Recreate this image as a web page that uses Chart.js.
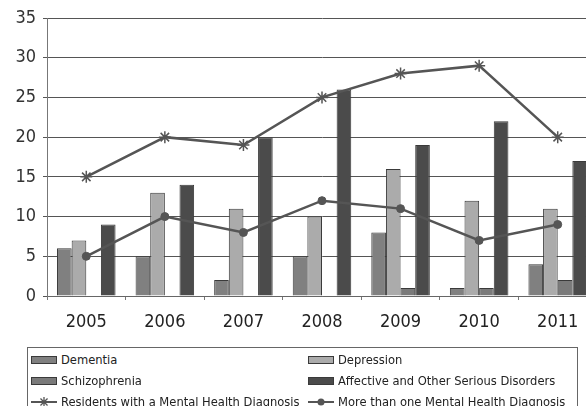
<!DOCTYPE html>
<html>
<head>
<meta charset="utf-8">
<script src="https://cdn.jsdelivr.net/npm/chart.js@4.4.1/dist/chart.umd.min.js"></script>
<style>
  html, body { margin: 0; padding: 0; background: #fff; }
  body { width: 586px; height: 406px; overflow: hidden; position: relative; }
  #wrap { position: absolute; left: 0; top: 0; width: 612px; height: 340px; }
  #legend {
    position: absolute; left: 27px; top: 347px; width: 551px; height: 70px;
    border: 1px solid #666; box-sizing: border-box;
    display: grid; grid-template-columns: 277px 1fr; grid-auto-rows: 21px;
    padding-top: 1px;
    font-family: "DejaVu Sans Condensed", "Liberation Sans", sans-serif; font-size: 12.8px; color: #222;
  }
  .item { display: flex; align-items: center; padding-left: 2px; white-space: nowrap; }
  .item canvas { margin-right: 3px; }
</style>
</head>
<body>
<div id="wrap"><canvas id="mhChart" width="612" height="340"></canvas></div>
<div id="legend"></div>
<script>
// Residents by mental health diagnosis, 2005-2011
const years = ["2005", "2006", "2007", "2008", "2009", "2010", "2011"];
const dementia = [6, 5, 2, 5, 8, 1, 4];
const depression = [7, 13, 11, 10, 16, 12, 11];
const schizophrenia = [0, 0, 0, 0, 1, 1, 2];
const affective = [9, 14, 20, 26, 19, 22, 17];
const residentsWithDiagnosis = [15, 20, 19, 25, 28, 29, 20];
const moreThanOneDiagnosis = [5, 10, 8, 12, 11, 7, 9];
const yTicks = [0, 5, 10, 15, 20, 25, 30, 35];

const lineColor = "#555555";
const font = "'DejaVu Sans Condensed', 'DejaVu Sans', sans-serif";

function barSet(label, data, color) {
  return {
    type: "bar", label, data, order: 1,
    backgroundColor: color, borderColor: "#3a3a3a", borderWidth: 1,
    categoryPercentage: 0.745, barPercentage: 1.0
  };
}

function lineSet(label, data, style, radius) {
  return {
    type: "line", label, data, order: 0,
    borderColor: lineColor, backgroundColor: lineColor, borderWidth: 2.5,
    pointStyle: style, pointRadius: radius, pointBorderWidth: style === "star" ? 1.5 : 1,
    pointBorderColor: lineColor, pointBackgroundColor: lineColor,
    tension: 0, fill: false
  };
}

const datasets = [
  barSet("Dementia", dementia, "#808080"),
  barSet("Depression", depression, "#ababab"),
  barSet("Schizophrenia", schizophrenia, "#7a7a7a"),
  barSet("Affective and Other Serious Disorders", affective, "#4b4b4b"),
  lineSet("Residents with a Mental Health Diagnosis", residentsWithDiagnosis, "star", 6),
  lineSet("More than one Mental Health Diagnosis", moreThanOneDiagnosis, "circle", 4)
];

const chart = new Chart(document.getElementById("mhChart").getContext("2d"), {
  data: { labels: years, datasets },
  options: {
    responsive: false,
    animation: false,
    layout: { padding: { top: 18, right: 15, left: 0, bottom: 0 } },
    plugins: { legend: { display: false }, tooltip: { enabled: false } },
    scales: {
      x: {
        offset: true,
        grid: { display: true, offset: true, drawOnChartArea: false, drawTicks: true, tickLength: 4, tickColor: "#777" },
        border: { display: true, color: "#666", width: 1 },
        ticks: { font: { family: font, size: 18 }, color: "#222", padding: 12 },
        afterFit: (scale) => { scale.height = 44; }
      },
      y: {
        min: yTicks[0], max: yTicks[yTicks.length - 1],
        afterBuildTicks: (scale) => { scale.ticks = yTicks.map(v => ({ value: v })); },
        grid: { color: "#555", lineWidth: 1, drawTicks: true, tickLength: 4, tickColor: "#555" },
        border: { display: true, color: "#777", width: 1 },
        ticks: { font: { family: font, size: 18 }, color: "#333", padding: 7 },
        afterFit: (scale) => { scale.width = 47; }
      }
    }
  }
});

// Two-column legend below the chart, filled from the datasets
const legendEl = document.getElementById("legend");
datasets.forEach(ds => {
  const item = document.createElement("div");
  item.className = "item";
  const sw = document.createElement("canvas");
  sw.width = 28; sw.height = 12;
  const c = sw.getContext("2d");
  if (ds.type === "bar") {
    c.fillStyle = ds.borderColor;
    c.fillRect(1, 2, 26, 8);
    c.fillStyle = ds.backgroundColor;
    c.fillRect(2, 3, 24, 6);
  } else {
    c.strokeStyle = ds.borderColor;
    c.lineWidth = 2;
    c.beginPath(); c.moveTo(1, 6); c.lineTo(27, 6); c.stroke();
    if (ds.pointStyle === "circle") {
      c.fillStyle = ds.borderColor;
      c.beginPath(); c.arc(14, 6, 3.5, 0, Math.PI * 2); c.fill();
    } else {
      c.lineWidth = 1.3;
      c.beginPath();
      for (let k = 0; k < 4; k++) {
        const a = k * Math.PI / 4;
        c.moveTo(14 - 5 * Math.cos(a), 6 - 5 * Math.sin(a));
        c.lineTo(14 + 5 * Math.cos(a), 6 + 5 * Math.sin(a));
      }
      c.stroke();
    }
  }
  item.appendChild(sw);
  const span = document.createElement("span");
  span.textContent = ds.label;
  item.appendChild(span);
  legendEl.appendChild(item);
});
</script>
</body>
</html>
